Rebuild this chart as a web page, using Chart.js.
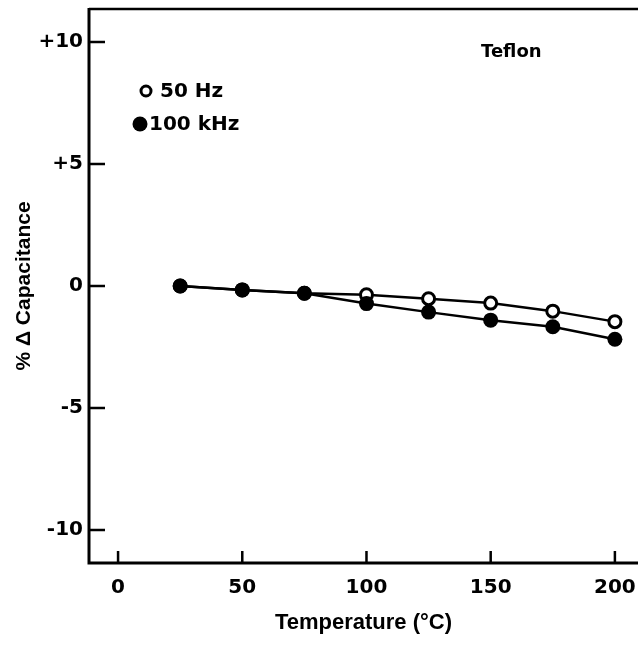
<!DOCTYPE html>
<html>
<head>
<meta charset="utf-8">
<script src="https://cdn.jsdelivr.net/npm/chart.js@4"></script>
<style>
html,body{margin:0;padding:0;background:#fff;}
#wrap{width:638px;height:649px;position:relative;}
</style>
</head>
<body>
<div id="wrap"><canvas id="c" width="638" height="649"></canvas></div>
<script>
const temperatures = [25, 50, 75, 100, 125, 150, 175, 200];
const cap50Hz = [0, -0.16, -0.3, -0.36, -0.52, -0.7, -1.03, -1.46];
const cap100kHz = [0, -0.16, -0.3, -0.72, -1.07, -1.4, -1.67, -2.18];
const xTicks = [0, 50, 100, 150, 200];
const yTicks = [-10, -5, 0, 5, 10];
const yTickLabels = {"-10": "-10", "-5": "-5", "0": "0", "5": "+5", "10": "+10"};
const seriesNames = ["50 Hz", "100 kHz"];
const materialLabel = "Teflon";

const TFONT = "'Liberation Sans', Arial, sans-serif";
const WFONT = "'DejaVu Sans', Verdana, sans-serif";

const framePlugin = {
  id: 'frame',
  afterLayout(chart) {
    const a = chart.chartArea, xs = chart.scales.x;
    if (a.right < chart.width) {
      a.right = chart.width; a.width = a.right - a.left;
      xs.right = chart.width; xs.width = xs.right - xs.left;
      xs.configure();
    }
  },
  afterDatasetsDraw(chart) {
    const ctx = chart.ctx, a = chart.chartArea;
    const xs = chart.scales.x, ys = chart.scales.y;
    ctx.save();
    ctx.strokeStyle = '#000';
    ctx.lineCap = 'butt';
    ctx.lineWidth = 2.5;
    ctx.beginPath();
    ctx.moveTo(a.left, a.top); ctx.lineTo(a.right, a.top);
    ctx.stroke();
    ctx.lineWidth = 3;
    ctx.beginPath();
    ctx.moveTo(a.left, a.top - 1); ctx.lineTo(a.left, a.bottom + 1.5);
    ctx.moveTo(a.left - 1.5, a.bottom); ctx.lineTo(a.right, a.bottom);
    ctx.stroke();
    // inward ticks
    ctx.lineWidth = 2.5;
    ctx.beginPath();
    yTicks.forEach(v => {
      const p = ys.getPixelForValue(v);
      ctx.moveTo(a.left, p); ctx.lineTo(a.left + 16, p);
    });
    xTicks.forEach(v => {
      const p = xs.getPixelForValue(v);
      ctx.moveTo(p, a.bottom); ctx.lineTo(p, a.bottom - 12);
    });
    ctx.stroke();
    // legend
    const ds = chart.data.datasets;
    ctx.font = "bold 20px " + WFONT;
    ctx.textBaseline = 'middle';
    const items = [
      {cx: 146, cy: 91, tx: 160},
      {cx: 140, cy: 124, tx: 149}
    ];
    ds.forEach((d, i) => {
      const it = items[i];
      ctx.beginPath();
      if (i === 0) {
        ctx.arc(it.cx, it.cy, 5, 0, Math.PI * 2);
        ctx.fillStyle = '#fff'; ctx.fill();
        ctx.lineWidth = 3; ctx.strokeStyle = '#000'; ctx.stroke();
      } else {
        ctx.arc(it.cx, it.cy, 7.5, 0, Math.PI * 2);
        ctx.fillStyle = '#000'; ctx.fill();
      }
      ctx.fillStyle = '#000';
      ctx.fillText(d.label, it.tx, it.cy + 1);
    });
    ctx.font = "bold 18px " + WFONT;
    ctx.fillText(materialLabel, 481, 52);
    ctx.restore();
  }
};

new Chart(document.getElementById('c'), {
  type: 'line',
  data: {
    datasets: [
      {
        label: seriesNames[0],
        order: 1,
        data: temperatures.map((t, i) => ({x: t, y: cap50Hz[i]})),
        borderColor: '#000', borderWidth: 2.5,
        pointRadius: 6, pointBorderWidth: 3,
        pointBackgroundColor: '#fff', pointBorderColor: '#000',
        tension: 0
      },
      {
        label: seriesNames[1],
        order: 0,
        data: temperatures.map((t, i) => ({x: t, y: cap100kHz[i]})),
        borderColor: '#000', borderWidth: 2.5,
        pointRadius: 7.5, pointBorderWidth: 0,
        pointBackgroundColor: '#000', pointBorderColor: '#000',
        tension: 0
      }
    ]
  },
  options: {
    responsive: false,
    animation: false,
    layout: {padding: {top: 7, right: 0, left: 0, bottom: 0}},
    plugins: {legend: {display: false}, tooltip: {enabled: false}},
    scales: {
      x: {
        type: 'linear', min: -11.7, max: 209.3,
        afterBuildTicks: s => { s.ticks = xTicks.map(v => ({value: v})); },
        afterFit: s => { s.height = 86; s.paddingLeft = 0; s.paddingRight = 0; },
        grid: {display: false, drawTicks: false},
        border: {display: false},
        ticks: {color: '#000', font: {family: WFONT, size: 20, weight: 'bold'}, padding: 13, maxRotation: 0},
        title: {display: true, text: 'Temperature (°C)', color: '#000',
                font: {family: TFONT, size: 22, weight: 'bold'}, padding: {top: 0, bottom: 13}}
      },
      y: {
        type: 'linear', min: -11.35, max: 11.35,
        afterBuildTicks: s => { s.ticks = yTicks.map(v => ({value: v})); },
        afterFit: s => { s.width = 89; s.paddingTop = 0; s.paddingBottom = 0; },
        grid: {display: false, drawTicks: false},
        border: {display: false},
        ticks: {color: '#000', font: {family: WFONT, size: 20, weight: 'bold'}, padding: 6,
                callback: v => yTickLabels[String(v)]},
        title: {display: true, text: '% \u0394 Capacitance', color: '#000',
                font: {family: TFONT, size: 21, weight: 'bold'}, padding: {top: 12, bottom: 0}}
      }
    }
  },
  plugins: [framePlugin]
});
</script>
</body>
</html>
